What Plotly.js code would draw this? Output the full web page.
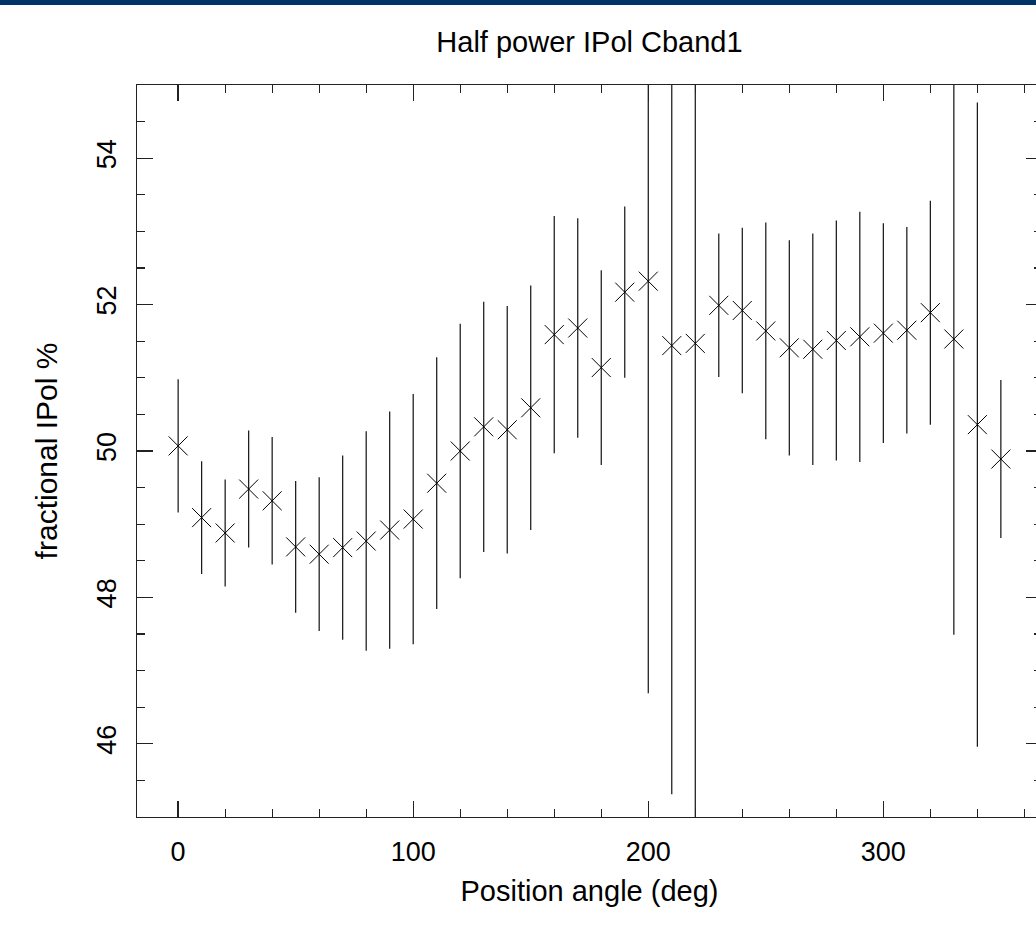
<!DOCTYPE html>
<html>
<head>
<meta charset="utf-8">
<script src="https://cdn.plot.ly/plotly-3.0.1.min.js"></script>
<style>
  html, body { margin: 0; padding: 0; background: #fff; overflow: hidden; width: 1036px; height: 946px; }
  #topbar { position: absolute; left: 0; top: 0; width: 1036px; height: 5px; background: #003366; z-index: 5; }
  #chart { position: absolute; left: 0; top: 0; width: 1100px; height: 946px; }
</style>
</head>
<body>
<div id="topbar"></div>
<div id="chart"></div>
<script>
// Position angle (deg)
const angles = [0, 10, 20, 30, 40, 50, 60, 70, 80, 90, 100, 110, 120, 130, 140, 150, 160, 170,
                180, 190, 200, 210, 220, 230, 240, 250, 260, 270, 280, 290, 300, 310, 320, 330, 340, 350];
// fractional IPol %
const ipol = [50.07, 49.09, 48.88, 49.48, 49.32, 48.69, 48.59, 48.68, 48.77, 48.92, 49.07, 49.56,
              50.00, 50.33, 50.29, 50.59, 51.59, 51.68, 51.14, 52.17, 52.32, 51.44, 51.47, 51.99,
              51.92, 51.64, 51.41, 51.39, 51.51, 51.56, 51.61, 51.65, 51.89, 51.53, 50.36, 49.89];
// error (+/-)
const ipolErr = [0.91, 0.77, 0.73, 0.80, 0.87, 0.90, 1.05, 1.26, 1.50, 1.62, 1.71, 1.72,
                 1.74, 1.71, 1.69, 1.67, 1.62, 1.50, 1.33, 1.17, 5.63, 6.13, 7.00, 0.98,
                 1.13, 1.48, 1.47, 1.58, 1.64, 1.71, 1.50, 1.41, 1.53, 4.04, 4.40, 1.08];

const FONT = '"Liberation Sans", Arial, Helvetica, sans-serif';

const trace = {
  x: angles,
  y: ipol,
  type: 'scatter',
  mode: 'markers',
  marker: { symbol: 'x-thin-open', size: 19, color: '#000', line: { color: '#000', width: 1 } },
  error_y: { type: 'data', array: ipolErr, visible: true, thickness: 1.2, width: 0, color: '#111' },
  cliponaxis: true,
  hoverinfo: 'x+y'
};

const axisCommon = {
  showgrid: false,
  zeroline: false,
  showline: true,
  linecolor: '#222',
  linewidth: 1.3,
  mirror: 'allticks',
  ticks: 'inside',
  ticklen: 16,
  tickwidth: 1.3,
  tickcolor: '#222',
  tickfont: { family: FONT, size: 27, color: '#000' }
};

const layout = {
  width: 1100,
  height: 946,
  margin: { l: 137, r: 58, t: 85, b: 129, pad: 0 },
  paper_bgcolor: '#fff',
  plot_bgcolor: '#fff',
  showlegend: false,
  title: {
    text: 'Half power IPol Cband1',
    font: { family: FONT, size: 29, color: '#000' },
    x: 0.5, xref: 'paper', xanchor: 'center',
    y: 1 - 42 / 946, yref: 'container', yanchor: 'middle'
  },
  xaxis: Object.assign({}, axisCommon, {
    range: [-17.5, 367.5],
    tick0: 0, dtick: 100,
    ticklabelstandoff: 10,
    minor: { dtick: 20, tick0: 0, ticks: 'inside', ticklen: 8, tickwidth: 1.3, tickcolor: '#222', showgrid: false },
    title: { text: 'Position angle (deg)', font: { family: FONT, size: 29, color: '#000' }, standoff: 15 }
  }),
  yaxis: Object.assign({}, axisCommon, {
    range: [45, 55],
    tick0: 0, dtick: 2,
    tickangle: -90,
    ticklabelstandoff: 9,
    minor: { dtick: 0.5, tick0: 0, ticks: 'inside', ticklen: 8, tickwidth: 1.3, tickcolor: '#222', showgrid: false },
    title: { text: 'fractional IPol %', font: { family: FONT, size: 30, color: '#000' }, standoff: 25 }
  })
};

Plotly.newPlot('chart', [trace], layout, { staticPlot: true, displayModeBar: false });
</script>
</body>
</html>
